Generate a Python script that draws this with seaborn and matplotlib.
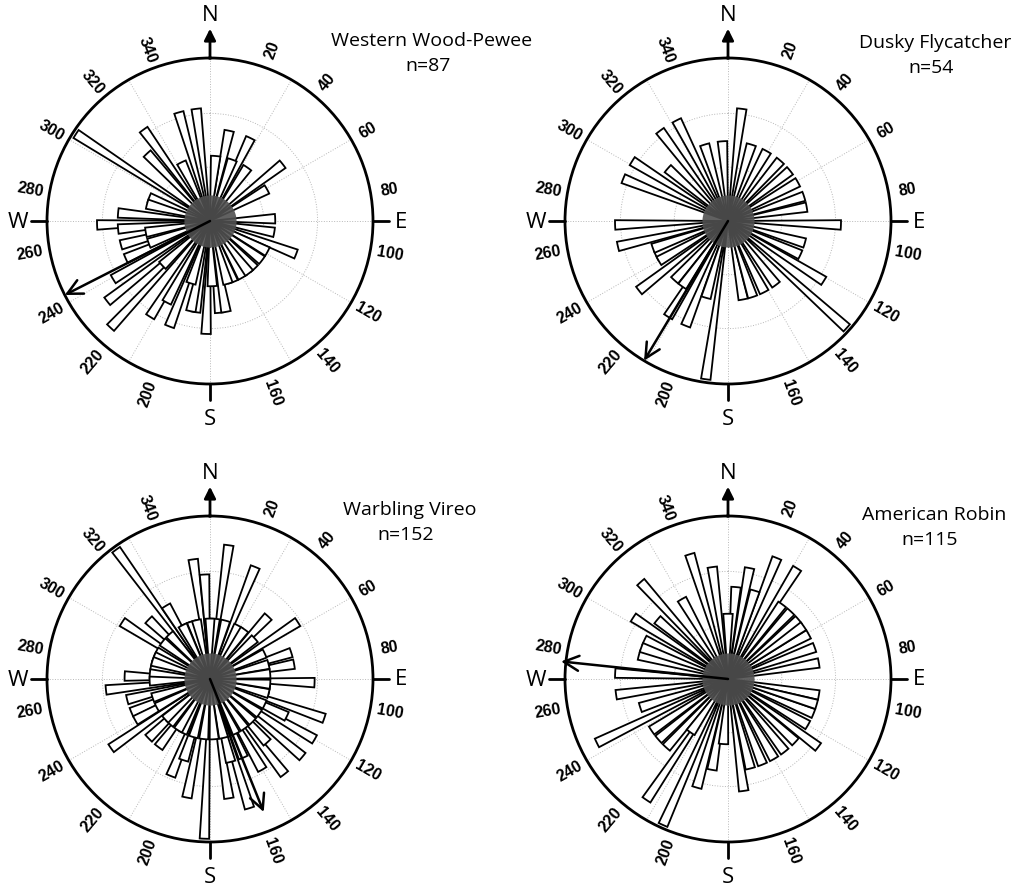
import numpy as np
import matplotlib
matplotlib.use("Agg")
import matplotlib.pyplot as plt
import seaborn as sns

# bearing of each bar (deg, clockwise from N) and the count it stands for
pewee_dir = [303, 324, 317, 344, 353, 334, 291, 12, 26, 20, 35, 52, 61, 88, 111, 118, 137, 150,
             159, 170, 182, 178, 174, 189, 192, 201, 208, 212, 223, 232, 239, 246, 255, 265, 268,
             275, 100, 127, 143, 164, 197, 227, 250, 260, 285, 5]
pewee_cnt = [6, 3, 2, 3, 3, 1, 1, 2, 2, 1, 1, 2, 1, 1, 2, 1, 1, 1,
             1, 2, 3, 1, 2, 2, 2, 3, 2, 3, 5, 4, 3, 2, 2, 2, 3,
             2, 1, 1, 1, 1, 1, 1, 1, 1, 1, 1]

dusky_dir = [7, 356, 17, 29, 41, 51, 61, 72, 92, 106, 122, 132, 143, 153, 162, 169, 188, 202,
             212, 232, 222, 244, 257, 268, 292, 302, 311, 323, 333, 343, 250, 80, 115, 215, 240, 196]
dusky_cnt = [2, 1, 1, 1, 1, 1, 1, 1, 2, 1, 2, 4, 1, 1, 1, 1, 4, 2,
             2, 2, 1, 1, 2, 2, 2, 2, 1, 2, 2, 1, 1, 1, 1, 1, 1, 1]

vireo_dir = [324, 352, 8, 22, 357, 0, 43, 57, 72, 80, 92, 95, 109, 120, 130, 142, 150, 163, 171,
             182, 191, 202, 217, 235, 247, 256, 264, 283, 303, 314, 329, 336, 28,
             5, 15, 35, 48, 65, 76, 85, 100, 104, 115, 125, 135, 145, 155, 167, 176, 186, 196,
             207, 212, 222, 228, 242, 252, 268, 275, 287, 292, 297, 308, 318, 333, 342, 347,
             116, 138, 157, 166, 198, 226, 241, 272]
vireo_cnt = [7, 4, 5, 4, 3, 1, 2, 3, 2, 2, 3, 1, 4, 4, 4, 4, 3, 5, 4,
             7, 4, 3, 2, 4, 2, 2, 3, 1, 3, 2, 2, 1, 1,
             1, 1, 1, 1, 1, 1, 1, 1, 1, 1, 1, 1, 1, 1, 1, 1, 1, 1,
             1, 1, 1, 1, 1, 1, 1, 1, 1, 1, 1, 1, 1, 1, 1, 1,
             2, 2, 2, 2, 2, 2, 2, 2]

robin_dir = [343, 352, 0, 11, 22, 32, 36, 50, 61, 80, 100, 112, 127, 142, 172, 184, 196, 204,
             214, 229, 244, 262, 273, 285, 295, 303, 318, 215, 166,
             5, 17, 43, 55, 70, 106, 120, 133, 150, 158, 190, 222, 236, 252, 290, 310, 330]
robin_cnt = [4, 3, 1, 3, 4, 4, 2, 2, 2, 2, 2, 2, 3, 2, 3, 1, 3, 6,
             5, 2, 5, 3, 3, 2, 2, 3, 4, 1, 2,
             2, 2, 2, 2, 2, 2, 2, 2, 2, 2, 2, 2, 2, 2, 2, 2, 2]

species = ["Western Wood-Pewee", "Dusky Flycatcher", "Warbling Vireo", "American Robin"]
sample_n = [87, 54, 152, 115]
mean_dir = [243, 211, 158, 276]
mean_len = [1.0, 1.0, 0.88, 1.03]

W, H = 1021, 887
R_PX = 163
centres = [(210, 222), (728, 222), (210, 680), (728, 680)]
title_xy = [(432, 41), (935, 43), (410, 510), (934, 515)]

sns.set_theme(style="white")
plt.rcParams["font.family"] = ["Open Sans", "DejaVu Sans"]
plt.rcParams["text.color"] = "black"


def rose(ax, dirs, cnts, mdir, mlen):
    r = np.sqrt(np.array(cnts, dtype=float))
    rmax = r.max() * 1.02
    theta = np.deg2rad(dirs)
    tip_px = r / rmax * R_PX
    width = np.minimum(9.5 / tip_px, 0.15)
    order = np.argsort(-r)

    ax.set_theta_zero_location("N")
    ax.set_theta_direction(-1)
    ax.bar(theta[order], r[order], width=width[order], bottom=0,
           color="white", edgecolor="black", linewidth=1.3, zorder=3)

    # dark blob where the bars pile up in the middle
    tt = np.linspace(0, 2 * np.pi, 120)
    ax.fill_between(tt, 0, 0.16 * rmax, color="#505050", alpha=0.9, lw=0, zorder=4)

    # mean direction
    ax.annotate("", xy=(np.deg2rad(mdir), mlen * rmax), xytext=(0, 0),
                arrowprops=dict(arrowstyle="->,head_length=0.9,head_width=0.45",
                                lw=1.8, color="black", shrinkA=0, shrinkB=0),
                annotation_clip=False, zorder=6)

    ax.set_ylim(0, rmax)
    ax.set_xticks(np.deg2rad(np.arange(0, 360, 30)))
    ax.set_yticks(rmax * np.array([0.33, 0.66]))
    ax.set_xticklabels([])
    ax.set_yticklabels([])
    ax.grid(True, color="0.72", linestyle=":", linewidth=0.7)
    ax.spines["polar"].set_linewidth(2)
    ax.spines["polar"].set_color("black")

    # compass marks
    ax.annotate("", xy=(0, 1.18 * rmax), xytext=(0, rmax),
                arrowprops=dict(arrowstyle="-|>", lw=2, color="black", mutation_scale=17,
                                shrinkA=0, shrinkB=0),
                annotation_clip=False)
    ax.text(0, 1.265 * rmax, "N", fontsize=16, ha="center", va="center")
    for b, lab, rr in [(90, "E", 1.17), (180, "S", 1.21), (270, "W", 1.18)]:
        ax.plot([np.deg2rad(b)] * 2, [rmax, 1.1 * rmax], color="black", lw=2, clip_on=False)
        ax.text(np.deg2rad(b), rr * rmax, lab, fontsize=16, ha="center", va="center")

    for b in range(20, 360, 20):
        if b == 180:
            continue
        rot = 90 - b
        if b > 180:
            rot += 180
        ax.text(np.deg2rad(b), 1.12 * rmax, str(b), fontsize=11.5, fontweight="bold",
                rotation=rot, rotation_mode="anchor", ha="center", va="center",
                family=["Liberation Sans", "DejaVu Sans"])


fig = plt.figure(figsize=(W / 100, H / 100), dpi=100)
data = [(pewee_dir, pewee_cnt), (dusky_dir, dusky_cnt), (vireo_dir, vireo_cnt), (robin_dir, robin_cnt)]
for i, (dirs, cnts) in enumerate(data):
    cx, cy = centres[i]
    ax = fig.add_axes([(cx - R_PX) / W, 1 - (cy + R_PX) / H, 2 * R_PX / W, 2 * R_PX / H],
                      projection="polar")
    rose(ax, dirs, cnts, mean_dir[i], mean_len[i])
    tx, ty = title_xy[i]
    fig.text(tx / W, 1 - ty / H, species[i], fontsize=14, ha="center", va="center")
    fig.text((tx - 4) / W, 1 - (ty + 25) / H, f"n={sample_n[i]}", fontsize=14, ha="center", va="center")

fig.savefig("out.png", dpi=100, facecolor="white")
